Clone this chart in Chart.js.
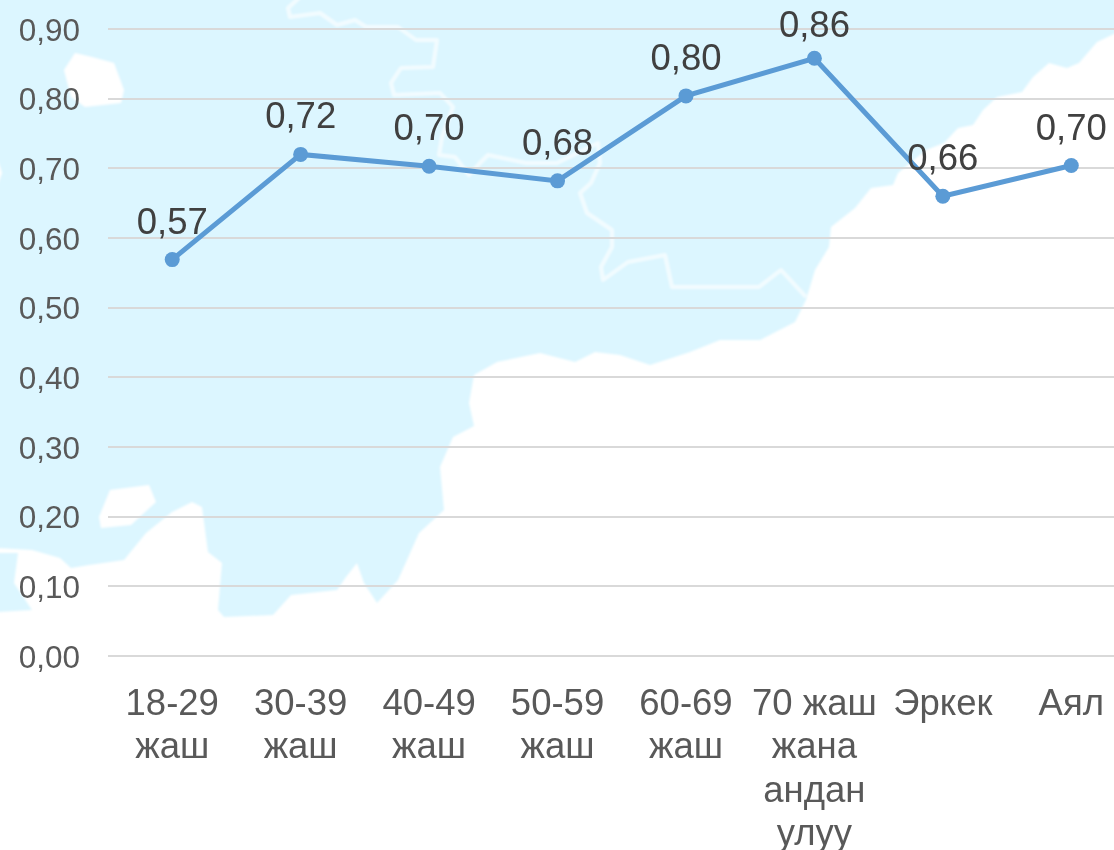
<!DOCTYPE html>
<html lang="en">
<head>
    <meta charset="UTF-8">
    <title>Line chart</title>
    <script src="https://cdn.jsdelivr.net/npm/chart.js"></script>
    <style>
        html, body {
            margin: 0;
            padding: 0;
            width: 1114px;
            height: 850px;
            overflow: hidden;
            background: #fff;
        }
        #map {
            position: absolute;
            left: 0;
            top: 0;
        }
        #chart {
            position: absolute;
            left: 0;
            top: 0;
        }
    </style>
</head>
<body>
    <!-- background map -->
    <svg id="map" width="1114" height="850" viewBox="0 0 1114 850">
        <defs>
            <filter id="soft" x="-5%" y="-5%" width="110%" height="110%"><feGaussianBlur stdDeviation="1"/></filter>
        </defs>
        <g filter="url(#soft)">
            <path fill="#dcf6ff" d="M-5 -5H1120V31L1097 42L1079 63L1067 68L1049 63L1033 77L1022 92L997 97L983 110L973 125L958 128L944 143L926 150L898 173L893 185L871 188L855 208L831 227L829 247L815 270L806 300L795 322L760 340L720 340L690 352L650 365L620 355L595 352L575 362L540 353L497 362L474 375L469 403L474 426L453 437L440 467L444 510L419 533L398 580L377 603L364 583L357 563L346 577L337 590L291 595L273 615L224 617L218 610L222 563L208 552L202 507L192 502L172 512L146 533L124 560L89 565L71 568L60 558L32 550L-5 548Z"/>
            <path fill="#dcf6ff" d="M-5 553L18 553L14 583L32 610L-5 612Z"/>
            <path fill="#fff" d="M64 70L75 53L92 57L114 63L124 90L121 103L85 107L71 97Z"/>
            <path fill="#fff" d="M110 490L149 485L156 502L131 525L101 528L99 517Z"/>
            <path fill="#fff" d="M-3 157L2 173L-3 187Z"/>
            <path fill="none" stroke="#f3fcff" stroke-width="4" stroke-linejoin="round" d="M300 -3L288 8L290 17L320 13L337 25L355 20L366 27L398 27L416 40L437 40L433 67L401 68L391 83L394 95L440 93L453 107L442 137L439 155L455 157L469 175L480 163L488 155L526 163L557 163L598 143L600 163L591 183L580 193L587 213L612 230L612 247L601 267L603 280L628 262L665 255L672 287L759 287L781 270L806 297"/>
        </g>
    </svg>
    <canvas id="chart" width="1143" height="850"></canvas>

    <script>
        const categories = [
            ['18-29', 'жаш'],
            ['30-39', 'жаш'],
            ['40-49', 'жаш'],
            ['50-59', 'жаш'],
            ['60-69', 'жаш'],
            ['70 жаш', 'жана', 'андан', 'улуу'],
            'Эркек',
            'Аял'
        ];
        const values = [0.569, 0.72, 0.703, 0.682, 0.804, 0.858, 0.66, 0.704];

        const commaLabel = v => v.toFixed(2).replace('.', ',');

        // Value labels above each point, kept inside the top edge
        const valueLabels = {
            id: 'valueLabels',
            beforeDraw(chart) {
                // y tick labels sit a little lower than the default middle
                chart.scales.y.getLabelItems().forEach(item => { item.textOffset = 3; });
            },
            afterDatasetsDraw(chart) {
                const ctx = chart.ctx;
                ctx.save();
                ctx.font = '36.5px "Liberation Sans"';
                ctx.fillStyle = '#404040';
                ctx.textAlign = 'center';
                ctx.textBaseline = 'middle';
                chart.getDatasetMeta(0).data.forEach((pt, i) => {
                    ctx.fillText(commaLabel(values[i]), pt.x, Math.max(pt.y - 36, 27));
                });
                ctx.restore();
            }
        };

        new Chart(document.getElementById('chart').getContext('2d'), {
            type: 'line',
            data: {
                labels: categories,
                datasets: [{
                    data: values,
                    borderColor: '#5b9bd5',
                    backgroundColor: '#5b9bd5',
                    borderWidth: 5,
                    pointRadius: 7.5,
                    pointBackgroundColor: '#5b9bd5',
                    pointBorderWidth: 0,
                    tension: 0,
                    clip: false
                }]
            },
            options: {
                responsive: false,
                animation: false,
                layout: { padding: { top: 29, left: 0, right: 0, bottom: 0 } },
                plugins: {
                    legend: { display: false },
                    tooltip: { enabled: false }
                },
                scales: {
                    x: {
                        offset: true,
                        afterFit: s => { s.height = 194; s.paddingLeft = 0; s.paddingRight = 0; },
                        grid: { display: false, offset: false },
                        border: { display: false },
                        ticks: {
                            autoSkip: false,
                            maxRotation: 0,
                            minRotation: 0,
                            padding: 19,
                            color: '#595959',
                            font: { family: '"Liberation Sans"', size: 36.5, lineHeight: 1.19 }
                        }
                    },
                    y: {
                        min: 0,
                        max: 0.9,
                        afterFit: s => { s.width = 108; s.paddingTop = 0; s.paddingBottom = 0; },
                        grid: { color: '#d9d9d9', lineWidth: 2, drawTicks: false },
                        border: { display: false },
                        ticks: {
                            stepSize: 0.1,
                            padding: 28,
                            color: '#595959',
                            font: { family: '"Liberation Sans"', size: 31.5 },
                            callback: v => commaLabel(v)
                        }
                    }
                }
            },
            plugins: [valueLabels]
        });
    </script>
</body>
</html>
